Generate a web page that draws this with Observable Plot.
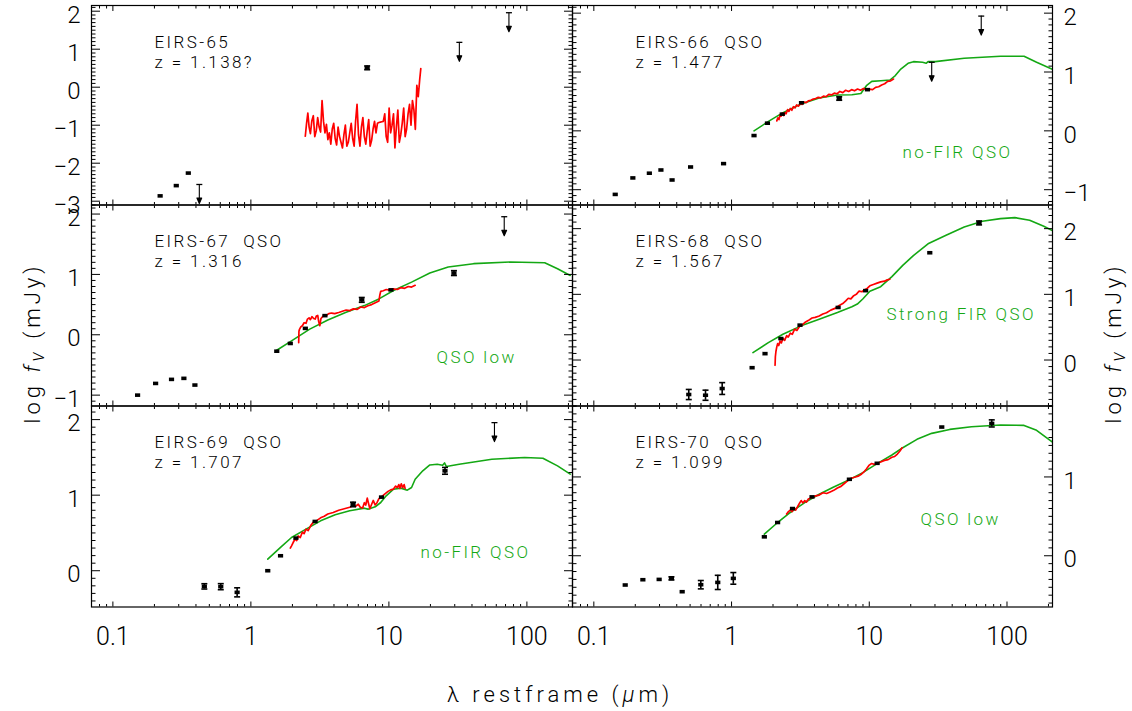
<!DOCTYPE html>
<html>
<head>
<meta charset="utf-8">
<script src="https://cdn.jsdelivr.net/npm/d3@7"></script>
<script src="https://cdn.jsdelivr.net/npm/@observablehq/plot@0.6"></script>
<style>
html,body{margin:0;padding:0;background:#fff;}
#wrap{position:relative;width:1132px;height:711px;overflow:hidden;background:#fff;}
#wrap svg{position:absolute;left:0;top:0;}
#wrap svg text, #wrap svg tspan{white-space:pre;}
#wrap g[aria-label="text"] text{letter-spacing:2.4px;}
.ttl{position:absolute;font-family:Roboto,"DejaVu Sans",sans-serif;font-weight:300;font-size:22px;letter-spacing:4px;color:#000;white-space:nowrap;transform:translate(-50%,-50%);}
.rot{transform:translate(-50%,-50%) rotate(-90deg);}
.nu{font-style:italic;font-size:0.9em;position:relative;top:0.2em;}
</style>
</head>
<body>
<div id="wrap">
<div class="ttl" style="left:560px;top:694px;">λ restframe (<i>μ</i>m)</div>
<div class="ttl rot" style="left:32px;top:343px;">log <i>f</i><span class="nu">ν</span> (mJy)</div>
<div class="ttl rot" style="left:1113px;top:343px;">log <i>f</i><span class="nu">ν</span> (mJy)</div>
</div>
<script>
// ---------------- DATA ----------------
// x tick labels
const xTickValues = [0.1, 1, 10, 100];
const xTickLabels = ["0.1", "1", "10", "100"];

// EIRS-65
const phot65Lam = [0.22, 0.288, 0.352, 6.96];
const phot65Log = [-2.86, -2.59, -2.26, 0.51];
const phot65Err = [0, 0, 0, 0.05];
const ul65Lam = [0.423, 32.4, 74.1];
const ul65Log = [-2.56, 1.18, 1.96];
const irs65Lam = [2.479, 2.532, 2.586, 2.642, 2.699, 2.766, 2.834, 2.904, 2.975, 3.048, 3.123, 3.200, 3.279, 3.360, 3.442, 3.527, 3.614, 3.703, 3.794, 3.887, 3.983, 4.081, 4.182, 4.285, 4.390, 4.498, 4.609, 4.722, 4.838, 4.957, 5.079, 5.205, 5.333, 5.464, 5.599, 5.737, 5.877, 6.022, 6.170, 6.323, 6.479, 6.638, 6.801, 6.969, 7.140, 7.316, 7.496, 7.681, 7.870, 8.064, 8.262, 8.466, 8.674, 8.888, 9.107, 9.331, 9.561, 9.798, 10.04, 10.29, 10.54, 10.80, 11.06, 11.33, 11.61, 11.90, 12.19, 12.49, 12.80, 13.12, 13.44, 13.77, 14.11, 14.46, 14.81, 15.18, 15.55, 15.94, 16.32, 16.72, 17.03];
const irs65Log = [-1.29, -0.95, -0.68, -1.05, -1.22, -0.88, -0.75, -1.30, -1.15, -0.80, -1.05, -1.18, -0.35, -0.90, -1.20, -0.98, -1.38, -1.20, -1.50, -1.10, -0.95, -1.35, -1.52, -1.05, -1.30, -1.45, -1.60, -1.25, -1.00, -1.55, -1.45, -1.20, -0.95, -1.35, -1.55, -0.90, -0.45, -1.25, -1.55, -1.05, -0.80, -1.30, -1.50, -1.15, -0.85, -1.55, -1.40, -1.10, -0.90, -1.20, -0.95, -0.93, -0.92, -0.91, -0.90, -0.70, -1.30, -1.45, -0.55, -1.20, -1.00, -0.70, -1.60, -1.05, -0.60, -1.45, -1.25, -0.95, -0.55, -1.30, -1.10, -0.70, -0.45, -1.00, -0.35, -0.60, -1.11, 0.05, -0.25, 0.20, 0.49];

// EIRS-66
const phot66Lam = [0.143, 0.192, 0.253, 0.307, 0.370, 0.504, 0.875, 1.456, 1.822, 2.335, 3.22, 6.05, 9.70];
const phot66Log = [-1.08, -0.80, -0.72, -0.665, -0.835, -0.614, -0.557, -0.08, 0.13, 0.284, 0.477, 0.55, 0.70];
const phot66Err = [0, 0, 0, 0, 0, 0, 0, 0, 0, 0, 0, 0.03, 0];
const ul66Lam = [28.4, 65.0];
const ul66Log = [1.165, 1.95];
const irs66Lam = [2.13, 2.17, 2.21, 2.25, 2.29, 2.34, 2.39, 2.44, 2.49, 2.55, 2.61, 2.67, 2.74, 2.81, 2.89, 2.97, 3.06, 3.15, 3.25, 3.36, 3.48, 3.61, 3.76, 3.92, 4.08, 4.26, 4.45, 4.65, 4.86, 5.08, 5.32, 5.57, 5.84, 6.12, 6.42, 6.74, 7.08, 7.44, 7.82, 8.22, 8.64, 9.08, 9.55, 10.05, 10.57, 11.12, 11.70, 12.30, 12.94, 13.60, 14.30, 15.0];
const irs66Log = [0.17, 0.22, 0.19, 0.27, 0.25, 0.30, 0.26, 0.31, 0.29, 0.36, 0.33, 0.38, 0.35, 0.41, 0.39, 0.44, 0.42, 0.46, 0.45, 0.49, 0.48, 0.51, 0.52, 0.54, 0.55, 0.57, 0.56, 0.59, 0.58, 0.62, 0.61, 0.64, 0.63, 0.67, 0.65, 0.69, 0.67, 0.70, 0.68, 0.71, 0.69, 0.72, 0.70, 0.71, 0.70, 0.74, 0.75, 0.78, 0.80, 0.84, 0.85, 0.88];
const mod66Lam = [1.456, 1.854, 2.364, 3.20, 4.33, 5.87, 7.48, 8.69, 9.53, 10.43, 12.14, 14.13, 15.46, 16.94, 19.13, 20.95, 24.37, 25.88, 26.7, 30.1, 48.9, 89.7, 133, 164, 216];
const mod66Log = [0.0, 0.16, 0.31, 0.455, 0.557, 0.61, 0.614, 0.636, 0.767, 0.84, 0.852, 0.864, 0.94, 1.05, 1.148, 1.176, 1.165, 1.148, 1.176, 1.176, 1.233, 1.267, 1.267, 1.165, 1.04];

// EIRS-67
const phot67Lam = [0.151, 0.204, 0.266, 0.327, 0.393, 1.54, 1.93, 2.48, 3.44, 6.36, 10.35, 29.6];
const phot67Log = [-1.0, -0.806, -0.739, -0.722, -0.833, -0.272, -0.144, 0.106, 0.317, 0.578, 0.744, 1.022];
const phot67Err = [0, 0, 0, 0, 0, 0, 0, 0, 0, 0.04, 0, 0.04];
const ul67Lam = [68.5];
const ul67Log = [1.956];
const irs67Lam = [2.22, 2.23, 2.25, 2.30, 2.36, 2.43, 2.51, 2.57, 2.64, 2.70, 2.77, 2.85, 2.92, 2.98, 3.05, 3.10, 3.16, 3.22, 3.28, 3.40, 3.51, 3.67, 3.84, 4.05, 4.33, 4.60, 4.90, 5.20, 5.53, 5.90, 6.25, 6.65, 7.05, 7.50, 7.97, 8.47, 8.60, 8.73, 9.10, 9.57, 10.1, 10.8, 11.5, 12.2, 13.0, 13.8, 14.6, 15.5];
const irs67Log = [-0.13, 0.06, 0.09, 0.13, 0.15, 0.20, 0.19, 0.26, 0.28, 0.25, 0.30, 0.27, 0.26, 0.31, 0.32, 0.22, 0.15, 0.27, 0.29, 0.33, 0.32, 0.35, 0.36, 0.35, 0.37, 0.39, 0.41, 0.40, 0.43, 0.42, 0.46, 0.45, 0.48, 0.50, 0.53, 0.56, 0.66, 0.72, 0.73, 0.75, 0.74, 0.76, 0.75, 0.78, 0.77, 0.80, 0.79, 0.82];
const mod67Lam = [1.54, 1.97, 2.67, 3.61, 4.90, 6.64, 8.47, 10.8, 14.6, 19.8, 26.9, 41.1, 75.5, 134.6, 166.7, 206];
const mod67Log = [-0.256, -0.10, 0.094, 0.244, 0.372, 0.483, 0.594, 0.733, 0.872, 1.022, 1.122, 1.178, 1.206, 1.194, 1.094, 0.983];

// EIRS-68
const phot68Lam = [0.489, 0.647, 0.855, 1.41, 1.75, 2.28, 3.14, 5.94, 9.41, 27.5, 62.7];
const phot68Log = [-0.525, -0.536, -0.434, -0.117, 0.097, 0.327, 0.531, 0.80, 1.056, 1.633, 2.087];
const phot68Err = [0.077, 0.077, 0.09, 0, 0, 0, 0, 0, 0, 0, 0.03];
const ul68Lam = [];
const ul68Log = [];
const irs68Lam = [2.07, 2.08, 2.10, 2.13, 2.16, 2.20, 2.25, 2.30, 2.36, 2.43, 2.51, 2.58, 2.67, 2.76, 2.87, 2.98, 3.11, 3.25, 3.40, 3.60, 3.84, 4.05, 4.33, 4.60, 4.89, 5.25, 5.69, 6.05, 6.42, 6.75, 7.04, 7.35, 7.71, 8.05, 8.44, 8.85, 9.24, 9.65, 10.1, 10.7, 11.4, 12.1, 12.9, 13.5, 14.1];
const irs68Log = [-0.08, 0.05, 0.13, 0.20, 0.25, 0.22, 0.29, 0.26, 0.33, 0.30, 0.37, 0.35, 0.41, 0.39, 0.47, 0.45, 0.51, 0.53, 0.57, 0.60, 0.64, 0.65, 0.67, 0.70, 0.72, 0.76, 0.79, 0.83, 0.86, 0.90, 0.94, 0.93, 0.98, 1.00, 1.05, 1.04, 1.07, 1.09, 1.13, 1.15, 1.17, 1.19, 1.20, 1.22, 1.23];
const mod68Lam = [1.43, 1.85, 2.36, 3.20, 4.33, 5.87, 7.48, 8.19, 8.97, 10.1, 12.1, 14.6, 17.5, 20.9, 26.7, 36.1, 48.9, 66.2, 89.7, 114, 146, 185, 216];
const mod68Log = [0.112, 0.265, 0.393, 0.52, 0.622, 0.724, 0.811, 0.852, 0.929, 1.046, 1.117, 1.27, 1.44, 1.59, 1.77, 1.90, 2.026, 2.112, 2.153, 2.168, 2.128, 2.036, 1.964];

// EIRS-69
const phot69Lam = [0.46, 0.605, 0.795, 1.325, 1.64, 2.12, 2.92, 5.50, 8.84, 25.5];
const phot69Log = [-0.207, -0.211, -0.286, 0.0, 0.198, 0.432, 0.652, 0.877, 0.974, 1.322];
const phot69Err = [0.035, 0.04, 0.06, 0, 0, 0, 0, 0.03, 0, 0.045];
const ul69Lam = [58.2];
const ul69Log = [1.96];
const irs69Lam = [1.93, 1.97, 2.02, 2.09, 2.15, 2.20, 2.28, 2.36, 2.43, 2.51, 2.60, 2.72, 2.83, 2.98, 3.20, 3.40, 3.61, 3.95, 4.33, 4.75, 5.20, 5.50, 5.70, 6.00, 6.20, 6.45, 6.64, 6.80, 6.97, 7.10, 7.28, 7.50, 7.70, 7.95, 8.20, 8.45, 8.70, 9.00, 9.27, 9.56, 9.86, 10.3, 10.8, 11.2, 11.5, 11.8, 12.0, 12.3, 12.6, 12.9, 13.1];
const irs69Log = [0.30, 0.33, 0.37, 0.42, 0.40, 0.46, 0.44, 0.51, 0.49, 0.55, 0.53, 0.60, 0.64, 0.66, 0.70, 0.72, 0.75, 0.77, 0.80, 0.82, 0.84, 0.86, 0.85, 0.88, 0.84, 0.83, 0.90, 0.87, 0.96, 0.90, 0.82, 0.88, 0.93, 0.87, 0.90, 0.95, 0.97, 0.99, 1.01, 1.03, 1.05, 1.07, 1.08, 1.12, 1.10, 1.14, 1.09, 1.15, 1.10, 1.14, 1.09];
const mod69Lam = [1.325, 1.64, 1.97, 2.51, 3.20, 4.08, 5.20, 6.64, 7.05, 7.96, 8.73, 9.56, 10.8, 12.2, 13.6, 14.6, 15.5, 17.6, 19.8, 22.4, 24.5, 25.3, 26.1, 32.3, 55.7, 96.4, 130.6, 166.7, 206];
const mod69Log = [0.154, 0.308, 0.44, 0.55, 0.66, 0.74, 0.793, 0.828, 0.815, 0.846, 0.903, 0.991, 1.079, 1.093, 1.066, 1.101, 1.211, 1.322, 1.40, 1.41, 1.396, 1.427, 1.379, 1.41, 1.476, 1.498, 1.489, 1.388, 1.278];

// EIRS-70
const phot70Lam = [0.169, 0.227, 0.298, 0.366, 0.438, 0.598, 0.794, 1.03, 1.73, 2.16, 2.77, 3.84, 7.17, 11.4, 33.6, 77.5];
const phot70Log = [-0.371, -0.304, -0.30, -0.287, -0.456, -0.367, -0.338, -0.287, 0.24, 0.422, 0.599, 0.747, 0.97, 1.173, 1.633, 1.679];
const phot70Err = [0, 0, 0, 0.02, 0, 0.053, 0.09, 0.074, 0, 0, 0, 0, 0, 0, 0, 0.045];
const ul70Lam = [];
const ul70Log = [];
const irs70Lam = [2.51, 2.59, 2.67, 2.75, 2.84, 2.92, 3.01, 3.10, 3.20, 3.30, 3.40, 3.50, 3.61, 3.84, 4.08, 4.33, 4.61, 4.90, 5.20, 5.52, 5.87, 6.23, 6.62, 6.95, 7.26, 7.60, 7.94, 8.30, 8.69, 9.10, 9.53, 10.0, 10.4, 10.9, 11.4, 12.1, 12.9, 13.7, 14.6, 15.3, 16.0, 16.7, 17.3];
const irs70Log = [0.53, 0.56, 0.58, 0.56, 0.60, 0.58, 0.62, 0.66, 0.70, 0.67, 0.70, 0.68, 0.72, 0.74, 0.76, 0.77, 0.80, 0.79, 0.81, 0.83, 0.86, 0.88, 0.92, 0.95, 0.98, 0.99, 1.00, 1.01, 1.03, 1.06, 1.10, 1.15, 1.17, 1.16, 1.17, 1.19, 1.21, 1.22, 1.25, 1.26, 1.29, 1.33, 1.37];
const mod70Lam = [1.73, 2.09, 2.67, 3.40, 4.33, 5.52, 7.04, 8.97, 11.4, 14.6, 17.5, 22.2, 28.4, 38.4, 55.2, 89.7, 133, 164, 216];
const mod70Log = [0.274, 0.40, 0.549, 0.675, 0.781, 0.873, 0.958, 1.055, 1.169, 1.278, 1.371, 1.477, 1.553, 1.603, 1.637, 1.658, 1.654, 1.591, 1.435];

// ---------------- LAYOUT ----------------
const W = 1132, H = 711;
const COL_L = [91, 572], COL_R = [572, 1052];
const ROW_T = [5, 204.5, 405.5], ROW_B = [204.5, 405.5, 606.5];
const X_DOMAIN = [0.07, 214];
const GREEN = "#14a814", RED = "#ff0000";

const panels = [
  {name: "EIRS-65", tag: "", z: "z = 1.138?", col: 0, row: 0, yDomain: [-3.1, 2.15], yMajor: [-3, -2, -1, 0, 1, 2],
   photLam: phot65Lam, photLog: phot65Log, photErr: phot65Err, ulLam: ul65Lam, ulLog: ul65Log, irsLam: irs65Lam, irsLog: irs65Log, modLam: null, modLog: null, modLabel: null},
  {name: "EIRS-66", tag: "QSO", z: "z = 1.477", col: 1, row: 0, yDomain: [-1.26, 2.13], yMajor: [-1, 0, 1, 2],
   photLam: phot66Lam, photLog: phot66Log, photErr: phot66Err, ulLam: ul66Lam, ulLog: ul66Log, irsLam: irs66Lam, irsLog: irs66Log, modLam: mod66Lam, modLog: mod66Log, modLabel: "no-FIR QSO", lx: 330, ly: 140},
  {name: "EIRS-67", tag: "QSO", z: "z = 1.316", col: 0, row: 1, yDomain: [-1.18, 2.15], yMajor: [-1, 0, 1, 2],
   photLam: phot67Lam, photLog: phot67Log, photErr: phot67Err, ulLam: ul67Lam, ulLog: ul67Log, irsLam: irs67Lam, irsLog: irs67Log, modLam: mod67Lam, modLog: mod67Log, modLabel: "QSO low", lx: 345, ly: 146},
  {name: "EIRS-68", tag: "QSO", z: "z = 1.567", col: 1, row: 1, yDomain: [-0.70, 2.36], yMajor: [0, 1, 2],
   photLam: phot68Lam, photLog: phot68Log, photErr: phot68Err, ulLam: ul68Lam, ulLog: ul68Log, irsLam: irs68Lam, irsLog: irs68Log, modLam: mod68Lam, modLog: mod68Log, modLabel: "Strong FIR QSO", lx: 314, ly: 103},
  {name: "EIRS-69", tag: "QSO", z: "z = 1.707", col: 0, row: 2, yDomain: [-0.48, 2.18], yMajor: [0, 1, 2],
   photLam: phot69Lam, photLog: phot69Log, photErr: phot69Err, ulLam: ul69Lam, ulLog: ul69Log, irsLam: irs69Lam, irsLog: irs69Log, modLam: mod69Lam, modLog: mod69Log, modLabel: "no-FIR QSO", lx: 329, ly: 140},
  {name: "EIRS-70", tag: "QSO", z: "z = 1.099", col: 1, row: 2, yDomain: [-0.65, 1.90], yMajor: [0, 1],
   photLam: phot70Lam, photLog: phot70Log, photErr: phot70Err, ulLam: ul70Lam, ulLog: ul70Log, irsLam: irs70Lam, irsLog: irs70Log, modLam: mod70Lam, modLog: mod70Log, modLabel: "QSO low", lx: 348, ly: 107}
];

// minor x ticks (2..9 per decade) within domain
const xMinor = [];
for (const dec of [0.01, 0.1, 1, 10, 100]) for (let k = 2; k <= 9; k++) {
  const v = +(dec * k).toPrecision(6);
  if (v > X_DOMAIN[0] && v < X_DOMAIN[1]) xMinor.push(v);
}

const capSym = {draw(ctx) { ctx.moveTo(-3, 0); ctx.lineTo(3, 0); }};
const rectSym = {draw(ctx) { ctx.moveTo(-2.6, -1.8); ctx.lineTo(2.6, -1.8); ctx.lineTo(2.6, 1.8); ctx.lineTo(-2.6, 1.8); ctx.closePath(); }};
const arrowShape = {draw(ctx, l) { ctx.moveTo(0, 0); ctx.lineTo(0, -l); ctx.moveTo(-2.4, -l + 5.5); ctx.lineTo(0, -l); ctx.lineTo(2.4, -l + 5.5); ctx.closePath(); }};
const fmtY = d => d < 0 ? "\u2212" + Math.abs(d) : String(d);

const wrap = document.getElementById("wrap");

for (const p of panels) {
  const L = COL_L[p.col], R = COL_R[p.col], T = ROW_T[p.row], B = ROW_B[p.row];
  const [y0, y1] = p.yDomain;
  const yMinor = [];
  for (let k = Math.ceil(y0 * 10); k <= Math.floor(y1 * 10); k++) if (k % 10 !== 0) yMinor.push(k / 10);

  const pts = p.photLam.map((x, i) => ({x, y: p.photLog[i], e: p.photErr[i]}));
  const errs = pts.filter(d => d.e > 0);
  const caps = errs.flatMap(d => [{x: d.x, y: d.y - d.e}, {x: d.x, y: d.y + d.e}]);
  const uls = p.ulLam.map((x, i) => ({x, y: p.ulLog[i]}));
  const irs = p.irsLam.map((x, i) => ({x, y: p.irsLog[i]}));
  const mod = p.modLam ? p.modLam.map((x, i) => ({x, y: p.modLog[i]})) : [];

  const line1 = p.tag ? p.name + "  " + p.tag : p.name;
  const marks = [
    mod.length ? Plot.line(mod, {x: "x", y: "y", stroke: GREEN, strokeWidth: 1.6, clip: true}) : null,
    Plot.line(irs, {x: "x", y: "y", stroke: RED, strokeWidth: 1.7, clip: true}),
    Plot.ruleX(errs, {x: "x", y1: d => d.y - d.e, y2: d => d.y + d.e, stroke: "black", strokeWidth: 1.6}),
    Plot.dot(caps, {x: "x", y: "y", symbol: capSym, stroke: "black", strokeWidth: 1.6, fill: "none"}),
    Plot.dot(pts, {x: "x", y: "y", symbol: rectSym, fill: "black", stroke: "none"}),
    uls.length ? Plot.vector(uls, {x: "x", y: "y", length: 19, rotate: 180, anchor: "start", shape: arrowShape, stroke: "black", fill: "black", strokeWidth: 1.1}) : null,
    uls.length ? Plot.dot(uls, {x: "x", y: "y", symbol: capSym, stroke: "black", strokeWidth: 1.3, fill: "none"}) : null,
    Plot.frame({stroke: "black", strokeWidth: 1.2}),
    Plot.axisX({anchor: "bottom", ticks: xTickValues, tickSize: -5, fill: "none", label: null}),
    Plot.axisX({anchor: "bottom", ticks: xMinor, tickSize: -2.5, fill: "none", label: null}),
    Plot.axisX({anchor: "top", ticks: xTickValues, tickSize: -5, fill: "none", label: null}),
    Plot.axisX({anchor: "top", ticks: xMinor, tickSize: -2.5, fill: "none", label: null}),
    Plot.axisY({anchor: "left", ticks: p.yMajor, tickSize: -9, fill: "none", label: null}),
    Plot.axisY({anchor: "left", ticks: yMinor, tickSize: -4.5, fill: "none", label: null}),
    Plot.axisY({anchor: "right", ticks: p.yMajor, tickSize: -9, fill: "none", label: null}),
    Plot.axisY({anchor: "right", ticks: yMinor, tickSize: -4.5, fill: "none", label: null}),
    Plot.axisY({anchor: p.col === 0 ? "left" : "right", ticks: p.yMajor, tickSize: 0, tickPadding: 11, dy: 4, stroke: "none", fill: "black", fontSize: 24, tickFormat: fmtY, label: null}),
    p.row === 2 ? Plot.axisX({anchor: "bottom", ticks: xTickValues, tickSize: 0, tickPadding: 20, stroke: "none", fill: "black", fontSize: 25, tickFormat: d => xTickLabels[xTickValues.indexOf(d)], label: null}) : null,
    Plot.text([line1 + "\n" + p.z], {text: d => d, frameAnchor: "top-left", dx: 63, dy: 28, textAnchor: "start", lineAnchor: "top", lineHeight: 1.18, fontSize: 17, fill: "black"}),
    p.modLabel ? Plot.text([p.modLabel], {text: d => d, frameAnchor: "top-left", dx: p.lx, dy: p.ly, textAnchor: "start", lineAnchor: "top", fontSize: 17, fill: GREEN}) : null
  ].filter(Boolean);

  const svg = Plot.plot({
    width: W, height: H,
    marginLeft: L, marginRight: W - R, marginTop: T, marginBottom: H - B,
    x: {type: "log", domain: X_DOMAIN},
    y: {domain: p.yDomain},
    style: {background: "transparent", overflow: "visible", fontFamily: "Roboto, 'DejaVu Sans', sans-serif", fontWeight: 300, color: "black"},
    marks
  });
  wrap.appendChild(svg);
}
</script>
</body>
</html>
